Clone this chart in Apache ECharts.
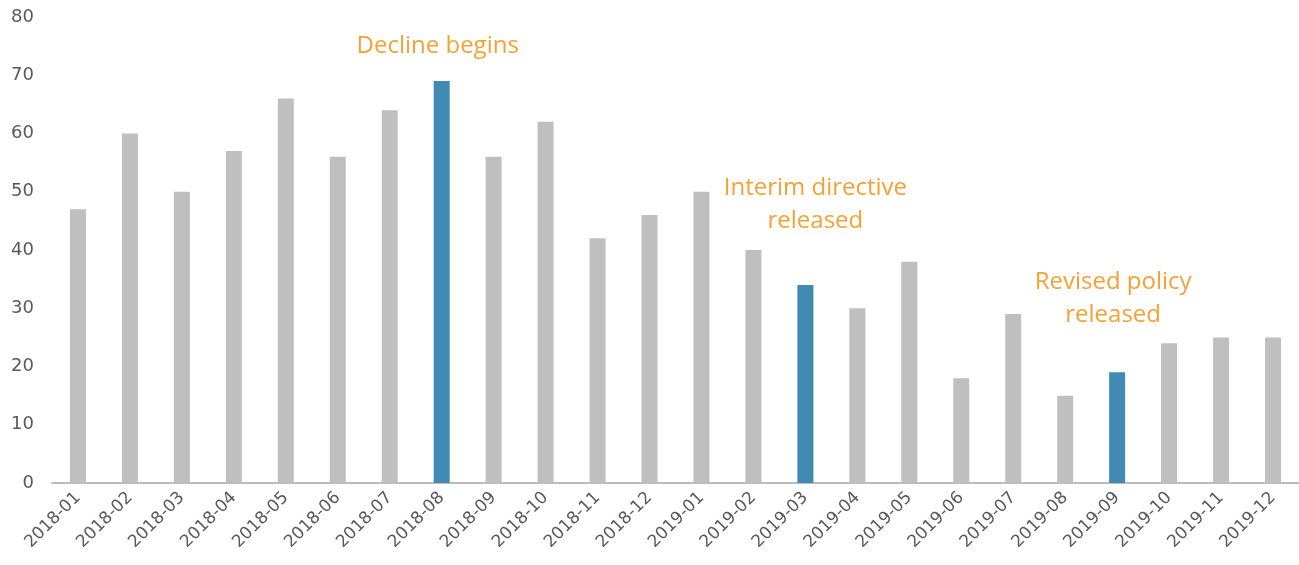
<!DOCTYPE html>
<html>
  <head>
    <meta charset="utf-8" />
    <title>Monthly counts 2018-2019</title>
    <style>
      html, body { margin: 0; padding: 0; background: #fff; }
      #main { width: 1299px; height: 565px; }
    </style>
  </head>
  <body>
    <script src="https://cdn.jsdelivr.net/npm/echarts@6/dist/echarts.min.js"></script>
    <div id="main"></div>
    <script>
      var months = [
        "2018-01", "2018-02", "2018-03", "2018-04", "2018-05", "2018-06",
        "2018-07", "2018-08", "2018-09", "2018-10", "2018-11", "2018-12",
        "2019-01", "2019-02", "2019-03", "2019-04", "2019-05", "2019-06",
        "2019-07", "2019-08", "2019-09", "2019-10", "2019-11", "2019-12"
      ];
      var counts = [47, 60, 50, 57, 66, 56, 64, 69, 56, 62, 42, 46,
                    50, 40, 34, 30, 38, 18, 29, 15, 19, 24, 25, 25];
      var highlighted = ["2018-08", "2019-03", "2019-09"];
      var notes = [
        { month: "2018-08", y: 75, dx: -4, text: "Decline begins" },
        { month: "2019-03", y: 47.7, dx: 10, text: "Interim directive\nreleased" },
        { month: "2019-09", y: 31.7, dx: -4, text: "Revised policy\nreleased" }
      ];

      var chart = echarts.init(document.getElementById("main"));

      var barData = counts.map(function (v, i) {
        var hi = highlighted.indexOf(months[i]) >= 0;
        return { value: v, itemStyle: { color: hi ? "#418AB3" : "#BFBFBF" } };
      });

      var option = {
        animation: false,
        grid: { left: 52, right: 0, top: 17, bottom: 82, containLabel: false },
        xAxis: {
          type: "category",
          data: months,
          axisLine: { lineStyle: { color: "#A6A6A6", width: 1.5 } },
          axisTick: { show: false },
          axisLabel: {
            rotate: 45,
            color: "#595959",
            fontFamily: "DejaVu Sans",
            fontSize: 17,
            margin: 12
          }
        },
        yAxis: {
          type: "value",
          min: 0,
          max: 80,
          interval: 10,
          splitLine: { show: false },
          axisLine: { show: false },
          axisTick: { show: false },
          axisLabel: {
            color: "#595959",
            fontFamily: "DejaVu Sans",
            fontSize: 18,
            margin: 18
          }
        },
        series: [{
          type: "bar",
          data: barData,
          barWidth: 16,
          markPoint: {
            symbol: "circle",
            symbolSize: 0,
            label: {
              show: true,
              position: "inside",
              color: "#F7A134",
              fontFamily: "Open Sans",
              fontSize: 24,
              lineHeight: 33,
              align: "center"
            },
            data: notes.map(function (n) {
              return {
                coord: [n.month, n.y],
                value: n.text,
                label: { formatter: n.text, offset: [n.dx, 0] }
              };
            })
          }
        }]
      };

      chart.setOption(option);
    </script>
  </body>
</html>
